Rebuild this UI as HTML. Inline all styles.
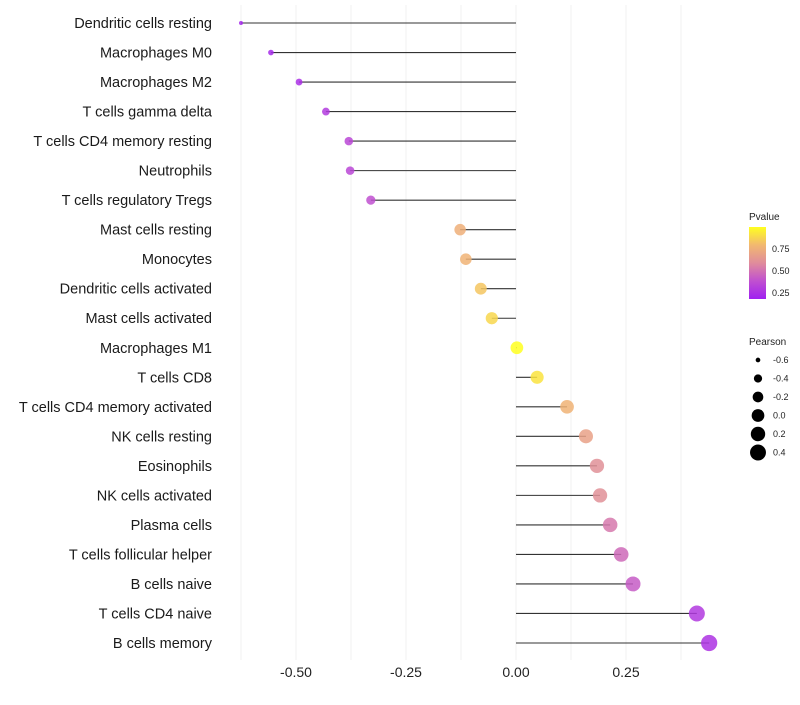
<!DOCTYPE html>
<html><head><meta charset="utf-8"><style>
body{margin:0;background:#fff;font-family:"Liberation Sans",sans-serif}
</style></head><body>
<svg id="chart" width="800" height="700" xmlns="http://www.w3.org/2000/svg">
<defs><linearGradient id="pg" x1="0" y1="1" x2="0" y2="0">
<stop offset="0" stop-color="#a020f0"/><stop offset="0.25" stop-color="#c050d0"/><stop offset="0.5" stop-color="#e08c9c"/><stop offset="0.75" stop-color="#f2b870"/><stop offset="1" stop-color="#ffff20"/></linearGradient></defs>
<g id="grid"></g>
<g id="marks"></g>
<g id="labels"></g>
<g id="xt"></g>
<g font-size="9" fill="#222">
<text x="749" y="220" font-size="10">Pvalue</text>
<rect x="749" y="227" width="17" height="72" fill="url(#pg)"/>
<text x="772" y="252">0.75</text>
<text x="772" y="274">0.50</text>
<text x="772" y="296">0.25</text>
</g>
<g id="sleg" font-size="9" fill="#222">
<text x="749" y="345" font-size="10">Pearson</text>
</g>
</svg>
<script>
const categories=["Dendritic cells resting","Macrophages M0","Macrophages M2","T cells gamma delta","T cells CD4 memory resting","Neutrophils","T cells regulatory  Tregs","Mast cells resting","Monocytes","Dendritic cells activated","Mast cells activated","Macrophages M1","T cells CD8","T cells CD4 memory activated","NK cells resting","Eosinophils","NK cells activated","Plasma cells","T cells follicular helper","B cells naive","T cells CD4 naive","B cells memory"];
const pearson=[-0.625,-0.557,-0.493,-0.432,-0.38,-0.377,-0.33,-0.127,-0.114,-0.08,-0.055,0.002,0.048,0.116,0.159,0.184,0.191,0.214,0.239,0.266,0.411,0.439];
const pvalue=[0.04,0.05,0.08,0.14,0.2,0.2,0.25,0.7,0.72,0.8,0.86,1.0,0.9,0.72,0.62,0.52,0.52,0.42,0.36,0.3,0.13,0.1];
const xTicks=[-0.5,-0.25,0,0.25];
const xTickLabels=["-0.50","-0.25","0.00","0.25"];
const legendVals=[-0.6,-0.4,-0.2,0.0,0.2,0.4];
const legendLabels=["-0.6","-0.4","-0.2","0.0","0.2","0.4"];
const NS="http://www.w3.org/2000/svg";
const X=v=>516+v*440;
const Y=i=>23+i*(620/21);
const R=v=>Math.sqrt(4+58*(v+0.625));
function col(p){const s=[[0,[160,32,240]],[0.25,[192,80,208]],[0.5,[224,140,156]],[0.75,[242,184,112]],[1,[255,255,32]]];
for(let k=1;k<s.length;k++){if(p<=s[k][0]){const t=(p-s[k-1][0])/(s[k][0]-s[k-1][0]);const a=s[k-1][1],b=s[k][1];return `rgb(${a.map((c,j)=>Math.round(c+(b[j]-c)*t)).join(',')})`;}}return 'rgb(255,255,32)';}
function mk(tag,at,parent){const e=document.createElementNS(NS,tag);for(const k in at)e.setAttribute(k,at[k]);document.getElementById(parent).appendChild(e);return e;}
for(let g=-0.625;g<=0.4;g+=0.125){const l=mk('line',{x1:X(g),x2:X(g),y1:5,y2:660,stroke:'#f0f0f0','stroke-width':1},'grid');

}
categories.forEach((c,i)=>{
const t=mk('text',{x:212,y:Y(i)+5,'text-anchor':'end','font-size':14.5,fill:'#1a1a1a'},'labels');t.textContent=c;


const l=mk('line',{x1:X(0),x2:X(pearson[i]),y1:Y(i),y2:Y(i),stroke:'#333','stroke-width':1.1},'marks');


const d=mk('circle',{cx:X(pearson[i]),cy:Y(i),r:R(pearson[i]),fill:col(pvalue[i]),'fill-opacity':0.85},'marks');


});
xTicks.forEach((v,i)=>{const t=mk('text',{x:X(v),y:677,'text-anchor':'middle','font-size':14,fill:'#222'},'xt');t.textContent=xTickLabels[i];

});
legendVals.forEach((v,i)=>{const y=360+i*18.5;
const c=mk('circle',{cx:758,cy:y,r:R(v),fill:'#000'},'sleg');


const t=mk('text',{x:773,y:y+3},'sleg');t.textContent=legendLabels[i];

});
</script>
</body></html>
